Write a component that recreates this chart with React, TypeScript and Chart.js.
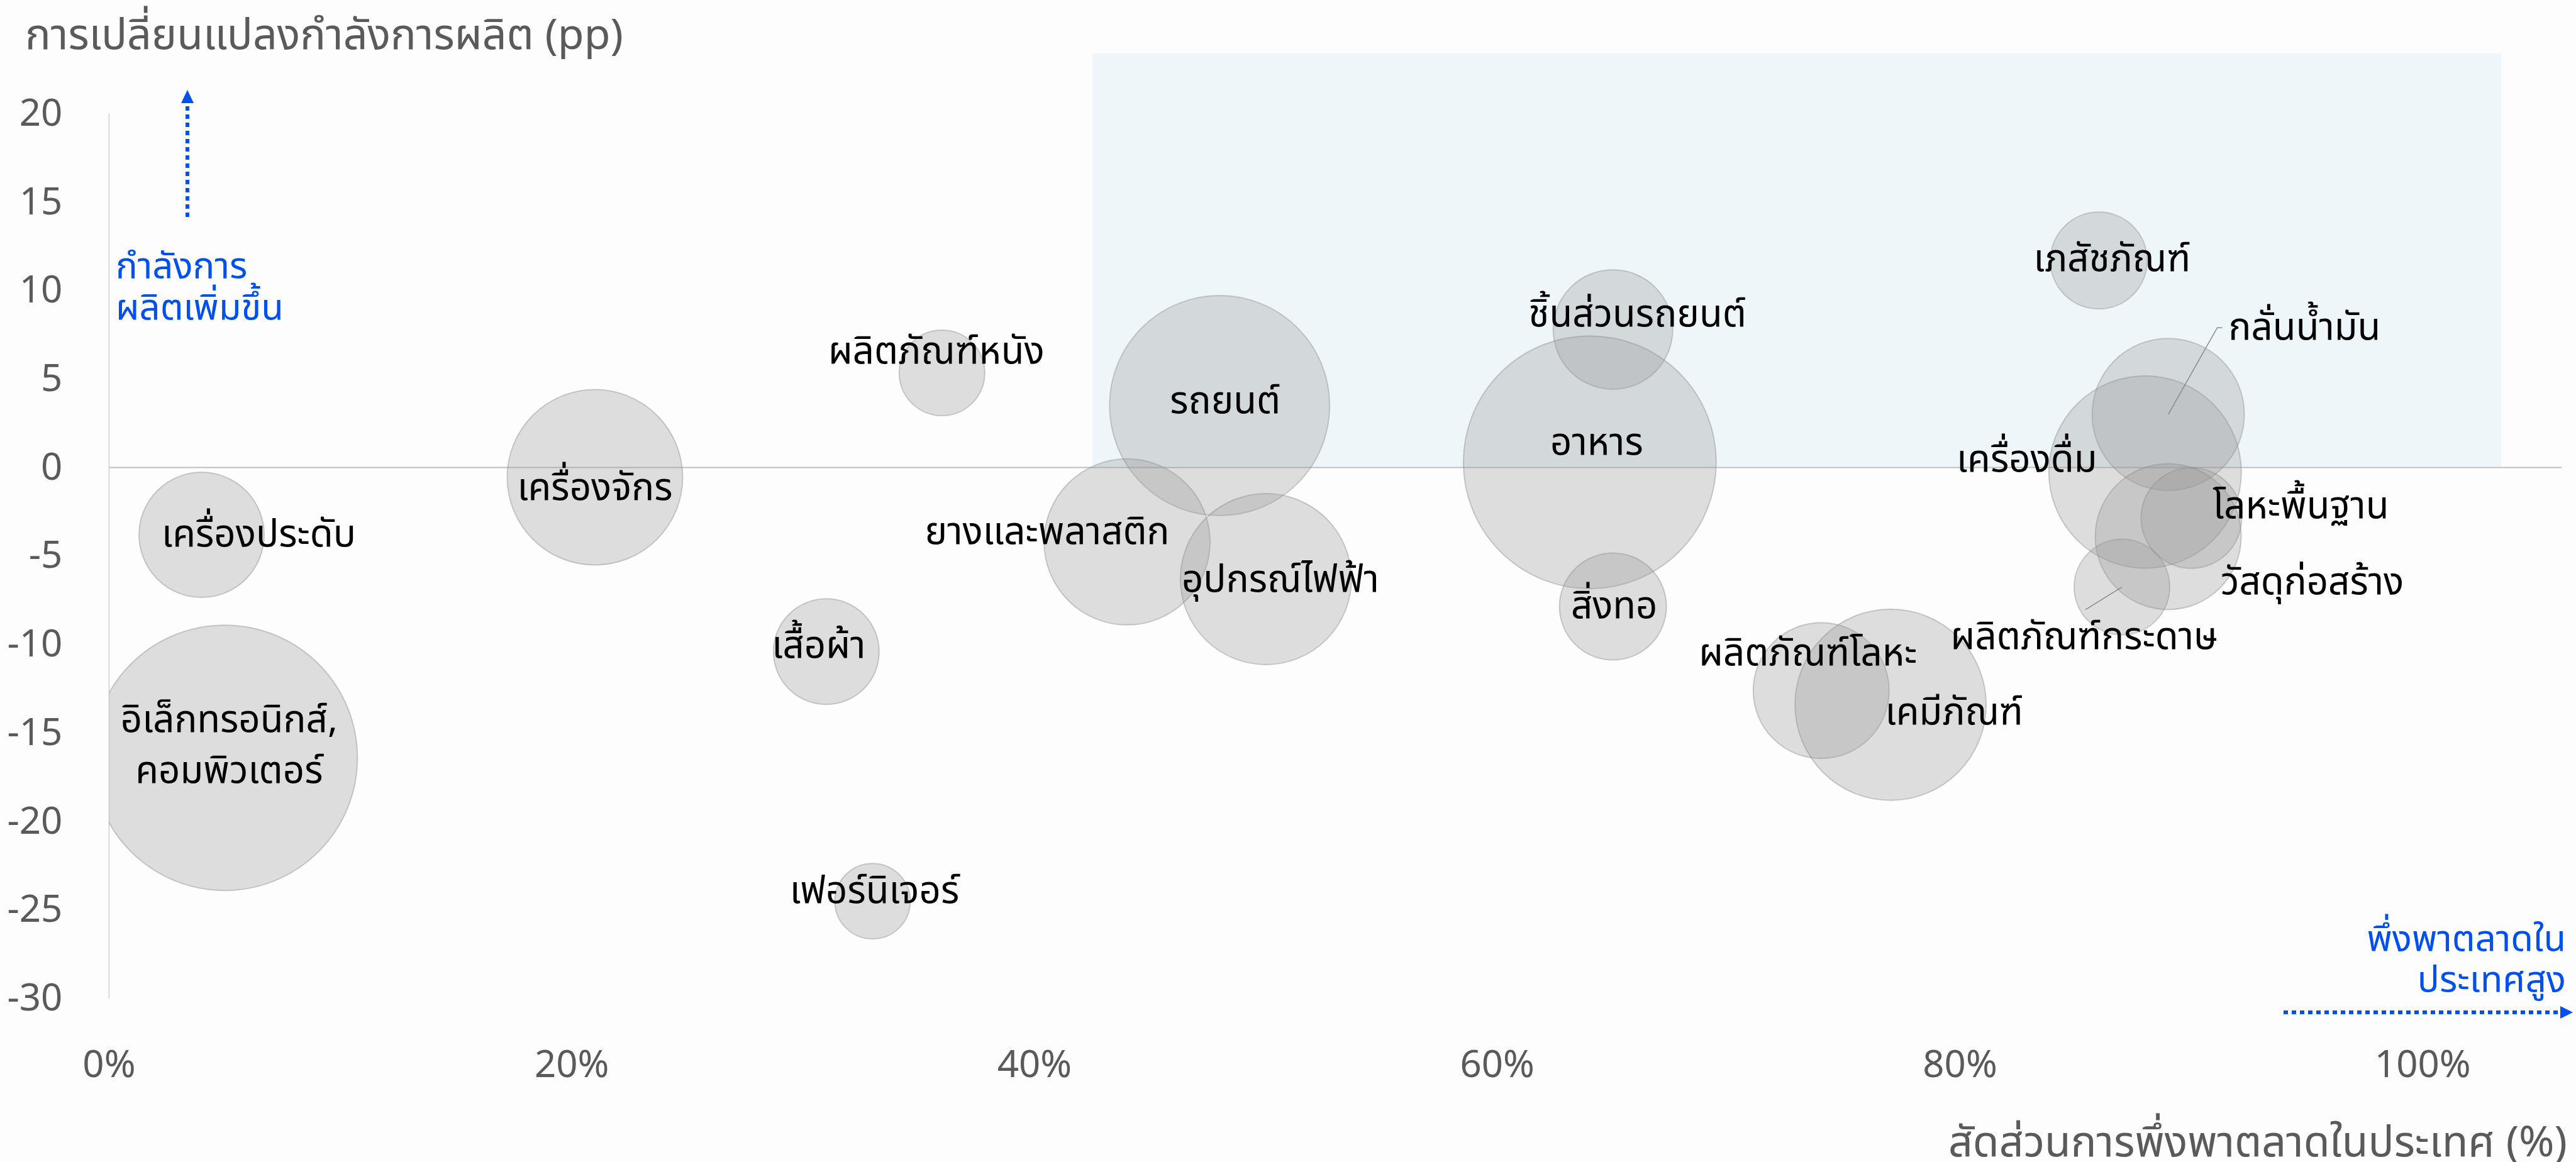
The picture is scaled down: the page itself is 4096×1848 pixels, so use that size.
import React, { useEffect, useRef } from "react";
import { Chart, registerables } from "chart.js";

Chart.register(...registerables);

// ---------- data ----------
const INDUSTRIES = [
  "เครื่องประดับ",
  "อิเล็กทรอนิกส์,\nคอมพิวเตอร์",
  "เครื่องจักร",
  "ผลิตภัณฑ์หนัง",
  "เสื้อผ้า",
  "เฟอร์นิเจอร์",
  "รถยนต์",
  "ยางและพลาสติก",
  "อุปกรณ์ไฟฟ้า",
  "ชิ้นส่วนรถยนต์",
  "อาหาร",
  "สิ่งทอ",
  "ผลิตภัณฑ์โลหะ",
  "เคมีภัณฑ์",
  "เภสัชภัณฑ์",
  "กลั่นน้ำมัน",
  "เครื่องดื่ม",
  "โลหะพื้นฐาน",
  "วัสดุก่อสร้าง",
  "ผลิตภัณฑ์กระดาษ",
];
// share of domestic-market dependence (%)
const DOMESTIC_SHARE = [4.0, 5.0, 21.0, 36.0, 31.0, 33.0, 48.0, 44.0, 50.0, 65.0, 64.0, 65.0, 74.0, 77.0, 86.0, 89.0, 88.0, 90.0, 89.0, 87.0];
// change in capacity (pp)
const CAPACITY_CHANGE = [-3.8, -16.4, -0.55, 5.35, -10.4, -24.5, 3.5, -4.2, -6.3, 7.8, 0.3, -7.85, -12.6, -13.4, 11.7, 3.0, -0.25, -2.85, -3.9, -6.75];
// bubble size (radius)
const BUBBLE_SIZE = [99.5, 211, 139.5, 68, 84, 60, 175, 132, 136, 95, 201, 85, 108, 152, 77, 121, 153, 80, 116, 76];

const Y_TICKS = [20, 15, 10, 5, 0, -5, -10, -15, -20, -25, -30];
const X_TICKS = [0, 20, 40, 60, 80, 100];
const X_TICK_LABELS = ["0%", "20%", "40%", "60%", "80%", "100%"];

const Y_TITLE = "การเปลี่ยนแปลงกำลังการผลิต (pp)";
const X_TITLE = "สัดส่วนการพึ่งพาตลาดในประเทศ (%)";
const UP_NOTE = ["กำลังการ", "ผลิตเพิ่มขึ้น"];
const RIGHT_NOTE = ["พึ่งพาตลาดใน", "ประเทศสูง"];

// ---------- layout / style ----------
const W = 4096;
const H = 1848;
const FONT = "'Noto Sans Thai', 'Noto Sans Thai UI', 'Noto Sans', Roboto, sans-serif";
const TEXT_GRAY = "#5a5a5a";
const BLUE = "#0050ef";

type LabelLayout = { dx: number; dy: number; align?: CanvasTextAlign; leader?: number[][] };
const LABEL_LAYOUT: LabelLayout[] = [
  { dx: 91, dy: 6 },
  { dx: 7, dy: -13 },
  { dx: 0, dy: 24 },
  { dx: -9, dy: -27 },
  { dx: -12, dy: -2 },
  { dx: 3, dy: -9 },
  { dx: 9, dy: 0 },
  { dx: -127, dy: -9 },
  { dx: 23, dy: 8 },
  { dx: 39, dy: -17 },
  { dx: 11, dy: -24 },
  { dx: 2, dy: 6 },
  { dx: -21, dy: -52 },
  { dx: 101, dy: 19 },
  { dx: 21, dy: 5 },
  { dx: 96, dy: -131, align: "left", leader: [[0, 0], [78, -138], [86, -138]] },
  { dx: -188, dy: -13 },
  { dx: 174, dy: -12 },
  { dx: 229, dy: 79 },
  { dx: -60, dy: 86, leader: [[0, 0], [-58, 36]] },
];

const LABEL_SIZE = 60;
const LINE_GAP = 81;

const decorPlugin = {
  id: "decor",
  beforeDraw(chart: any) {
    const ctx = chart.ctx;
    ctx.save();
    ctx.fillStyle = "#fdfdfd";
    ctx.fillRect(0, 0, W, H);
    ctx.restore();
  },
  beforeDatasetsDraw(chart: any) {
    const { ctx, chartArea } = chart;
    const xs = chart.scales.x;
    const ys = chart.scales.y;
    ctx.save();
    // highlighted quadrant
    const x1 = xs.getPixelForValue(42.5);
    const x2 = xs.getPixelForValue(103.4);
    const yt = chartArea.top;
    const y0 = ys.getPixelForValue(0);
    ctx.fillStyle = "#eef6fa";
    ctx.fillRect(x1, yt, x2 - x1, y0 - yt);
    // zero line
    ctx.strokeStyle = "#bfbfbf";
    ctx.lineWidth = 2;
    ctx.beginPath();
    ctx.moveTo(xs.getPixelForValue(0), y0);
    ctx.lineTo(chartArea.right, y0);
    ctx.stroke();
    // y axis line
    ctx.strokeStyle = "#d0d0d0";
    ctx.lineWidth = 1.5;
    const xa = xs.getPixelForValue(0);
    ctx.beginPath();
    ctx.moveTo(xa, ys.getPixelForValue(Y_TICKS[0]));
    ctx.lineTo(xa, ys.getPixelForValue(Y_TICKS[Y_TICKS.length - 1]));
    ctx.stroke();
    ctx.restore();
  },
  afterDatasetsDraw(chart: any) {
    const { ctx } = chart;
    const xs = chart.scales.x;
    const ys = chart.scales.y;
    ctx.save();
    // bubble labels
    ctx.font = `${LABEL_SIZE}px ${FONT}`;
    ctx.fillStyle = "#000";
    ctx.textBaseline = "middle";
    INDUSTRIES.forEach((name, i) => {
      const cx = xs.getPixelForValue(DOMESTIC_SHARE[i]);
      const cy = ys.getPixelForValue(CAPACITY_CHANGE[i]);
      const L = LABEL_LAYOUT[i];
      if (L.leader) {
        ctx.save();
        ctx.strokeStyle = "#8a8a8a";
        ctx.lineWidth = 1.5;
        ctx.beginPath();
        L.leader.forEach((p, k) => {
          if (k === 0) ctx.moveTo(cx + p[0], cy + p[1]);
          else ctx.lineTo(cx + p[0], cy + p[1]);
        });
        ctx.stroke();
        ctx.restore();
      }
      ctx.textAlign = L.align || "center";
      const lines = name.split("\n");
      lines.forEach((ln, k) => {
        const off = (k - (lines.length - 1) / 2) * LINE_GAP;
        ctx.fillText(ln, cx + L.dx, cy + L.dy + off);
      });
    });

    // axis titles
    ctx.fillStyle = TEXT_GRAY;
    ctx.font = `68px ${FONT}`;
    ctx.textAlign = "left";
    ctx.fillText(Y_TITLE, 40, 64);
    ctx.textAlign = "right";
    ctx.fillText(X_TITLE, 4082, 1825);

    // blue notes
    ctx.fillStyle = BLUE;
    ctx.font = `58px ${FONT}`;
    ctx.textAlign = "left";
    ctx.fillText(UP_NOTE[0], 184, 430);
    ctx.fillText(UP_NOTE[1], 184, 496);
    ctx.textAlign = "right";
    ctx.fillText(RIGHT_NOTE[0], 4080, 1500);
    ctx.fillText(RIGHT_NOTE[1], 4080, 1565);

    // arrows
    ctx.strokeStyle = BLUE;
    ctx.lineWidth = 6;
    ctx.setLineDash([7, 6]);
    ctx.beginPath();
    ctx.moveTo(298, 345);
    ctx.lineTo(298, 163);
    ctx.stroke();
    ctx.beginPath();
    ctx.moveTo(3631, 1610);
    ctx.lineTo(4072, 1610);
    ctx.stroke();
    ctx.setLineDash([]);
    ctx.fillStyle = BLUE;
    ctx.beginPath();
    ctx.moveTo(298, 143);
    ctx.lineTo(288, 164);
    ctx.lineTo(308, 164);
    ctx.closePath();
    ctx.fill();
    ctx.beginPath();
    ctx.moveTo(4091, 1610);
    ctx.lineTo(4071, 1600);
    ctx.lineTo(4071, 1620);
    ctx.closePath();
    ctx.fill();
    ctx.restore();
  },
};

export default function App() {
  const ref = useRef<HTMLCanvasElement | null>(null);
  useEffect(() => {
    document.body.style.margin = "0";
    const canvas = ref.current!;
    const chart = new Chart(canvas, {
      type: "bubble",
      data: {
        datasets: [
          {
            label: "industries",
            data: INDUSTRIES.map((_, i) => ({ x: DOMESTIC_SHARE[i], y: CAPACITY_CHANGE[i], r: BUBBLE_SIZE[i] })),
            backgroundColor: "rgba(150,150,150,0.3)",
            borderColor: "rgba(140,140,140,0.42)",
            borderWidth: 2,
            hoverRadius: 0,
          },
        ],
      },
      options: {
        responsive: false,
        animation: false,
        devicePixelRatio: 1,
        events: [],
        layout: { autoPadding: false, padding: { left: 0, right: 23, top: 85, bottom: 0 } },
        plugins: { legend: { display: false }, tooltip: { enabled: false } },
        scales: {
          x: {
            type: "linear",
            min: 0,
            max: 106,
            afterFit: (s: any) => { s.height = 260; },
            afterBuildTicks: (s: any) => { s.ticks = X_TICKS.map((v) => ({ value: v })); },
            grid: { display: false, drawTicks: false },
            border: { display: false },
            ticks: {
              padding: 77,
              color: TEXT_GRAY,
              font: { family: FONT, size: 60 },
              callback: (v: any) => X_TICK_LABELS[X_TICKS.indexOf(Number(v))] ?? "",
            },
          },
          y: {
            type: "linear",
            min: -30,
            max: 23.4,
            afterFit: (s: any) => { s.width = 173.4; s.paddingTop = 0; s.paddingBottom = 0; },
            afterBuildTicks: (s: any) => { s.ticks = Y_TICKS.map((v) => ({ value: v })); },
            grid: { display: false, drawTicks: false },
            border: { display: false },
            ticks: {
              padding: 74,
              labelOffset: 7,
              color: TEXT_GRAY,
              font: { family: FONT, size: 60 },
            },
          },
        },
      },
      plugins: [decorPlugin],
    });
    return () => chart.destroy();
  }, []);
  return (
    <div style={{ width: W, height: H, position: "relative" }}>
      <canvas ref={ref} width={W} height={H} style={{ width: W, height: H, display: "block" }} />
    </div>
  );
}
